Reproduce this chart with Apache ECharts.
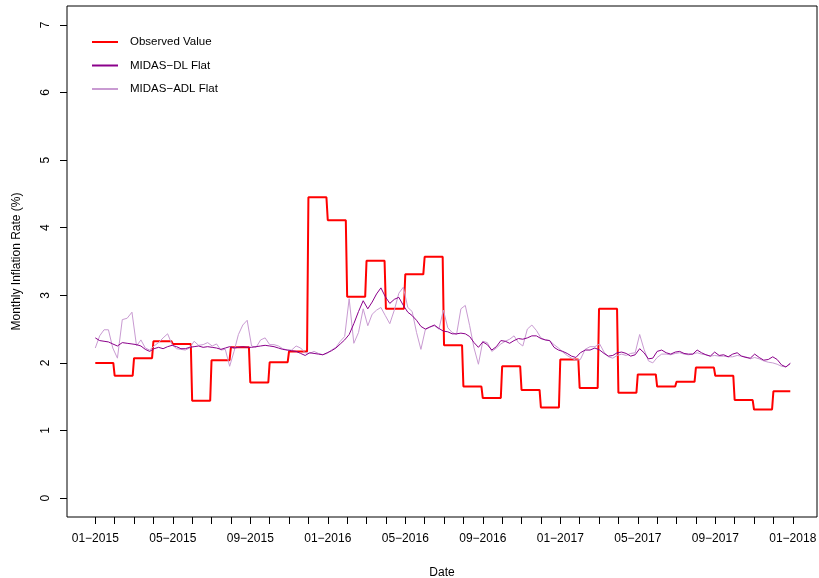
<!DOCTYPE html>
<html>
<head>
<meta charset="utf-8">
<script src="https://cdn.jsdelivr.net/npm/echarts@6/dist/echarts.min.js"></script>
<style>
html, body { margin: 0; padding: 0; background: #fff; }
#chart { width: 819px; height: 578px; }
</style>
</head>
<body>
<div id="chart"></div>
<script>
// monthly observed inflation, Jan 2015 .. Dec 2017
const observed = [
  2.00, 1.81, 2.07, 2.32, 2.28, 1.44, 2.04, 2.23, 1.71, 2.01, 2.17, 4.45,
  4.11, 2.98, 3.51, 2.80, 3.31, 3.57, 2.26, 1.65, 1.48, 1.95, 1.60, 1.34,
  2.05, 1.63, 2.80, 1.56, 1.83, 1.65, 1.72, 1.93, 1.81, 1.45, 1.31, 1.58
]

// weekly nowcasts, starting 2015-01-01
const weekStart = '2015-01-01'
const midasDL = [
  2.37, 2.33, 2.32, 2.31, 2.28, 2.25, 2.30, 2.29, 2.28, 2.27,
  2.25, 2.20, 2.17, 2.21, 2.23, 2.21, 2.24, 2.26, 2.24, 2.21,
  2.21, 2.23, 2.24, 2.25, 2.23, 2.24, 2.23, 2.22, 2.20, 2.22,
  2.24, 2.22, 2.23, 2.24, 2.23, 2.23, 2.24, 2.25, 2.26, 2.25,
  2.24, 2.22, 2.20, 2.19, 2.18, 2.17, 2.14, 2.11, 2.15, 2.14,
  2.13, 2.12, 2.15, 2.18, 2.22, 2.28, 2.34, 2.42, 2.58, 2.76,
  2.92, 2.80, 2.90, 3.02, 3.11, 2.98, 2.88, 2.94, 2.97, 2.85,
  2.75, 2.70, 2.63, 2.54, 2.50, 2.53, 2.56, 2.51, 2.47,
  2.46, 2.43, 2.43, 2.44, 2.43, 2.39, 2.30, 2.23, 2.31, 2.27,
  2.19, 2.24, 2.33, 2.32, 2.29, 2.33, 2.36, 2.35, 2.37, 2.40,
  2.40, 2.36, 2.34, 2.33, 2.23, 2.19, 2.17, 2.14, 2.10, 2.08,
  2.15, 2.19, 2.19, 2.22, 2.19, 2.14, 2.10, 2.11, 2.15,
  2.16, 2.14, 2.10, 2.12, 2.21, 2.15, 2.06, 2.07, 2.17, 2.19,
  2.15, 2.13, 2.16, 2.17, 2.14, 2.13, 2.13, 2.19, 2.15, 2.12,
  2.10, 2.16, 2.11, 2.12, 2.09, 2.13, 2.15, 2.10, 2.08, 2.07,
  2.13, 2.08, 2.04, 2.05, 2.09, 2.05, 1.97, 1.94, 1.99
]
const midasADL = [
  2.22, 2.40, 2.49, 2.49, 2.22, 2.07, 2.64, 2.66, 2.75, 2.25,
  2.34, 2.22, 2.19, 2.25, 2.30, 2.37, 2.43, 2.27, 2.21, 2.20,
  2.19, 2.22, 2.32, 2.26, 2.27, 2.30, 2.25, 2.28, 2.19, 2.20,
  1.95, 2.17, 2.42, 2.56, 2.63, 2.25, 2.23, 2.34, 2.37, 2.27,
  2.27, 2.25, 2.21, 2.19, 2.19, 2.25, 2.22, 2.15, 2.14, 2.17,
  2.14, 2.12, 2.14, 2.19, 2.23, 2.32, 2.39, 2.95, 2.29, 2.45,
  2.80, 2.55, 2.72, 2.78, 2.82, 2.70, 2.58, 2.78, 3.03, 3.12,
  2.82, 2.76, 2.45, 2.20, 2.49, 2.53, 2.55, 2.50, 2.78,
  2.52, 2.45, 2.42, 2.80, 2.85, 2.55, 2.22, 1.98, 2.32, 2.30,
  2.17, 2.22, 2.28, 2.32, 2.35, 2.40, 2.30, 2.25, 2.50, 2.56,
  2.48, 2.37, 2.34, 2.33, 2.27, 2.22, 2.16, 2.11, 2.07, 2.04,
  2.05, 2.20, 2.24, 2.24, 2.28, 2.16, 2.09, 2.07, 2.11,
  2.13, 2.11, 2.14, 2.15, 2.42, 2.20, 2.03, 2.00, 2.08, 2.13,
  2.13, 2.12, 2.14, 2.15, 2.13, 2.12, 2.13, 2.15, 2.13, 2.12,
  2.10, 2.11, 2.10, 2.10, 2.09, 2.09, 2.11, 2.10, 2.09, 2.06,
  2.08, 2.06, 2.03, 2.01, 2.00, 1.98, 1.95, 1.94, 2.00
]

const tickLabels = ['01-2015', '05-2015', '09-2015', '01-2016', '05-2016',
  '09-2016', '01-2017', '05-2017', '09-2017', '01-2018']
const yTicks = [0, 1, 2, 3, 4, 5, 6, 7]
const seriesNames = ['Observed Value', 'MIDAS\u2212DL Flat', 'MIDAS\u2212ADL Flat']

const FONT = 'Liberation Sans, Arial, sans-serif'
const DAY = 86400000

// position of a date in months since Jan 2015
function monthPos(t) {
  const d = new Date(t)
  const y = d.getUTCFullYear(), m = d.getUTCMonth()
  const dim = new Date(Date.UTC(y, m + 1, 0)).getUTCDate()
  return (y - 2015) * 12 + m + (d.getUTCDate() - 1) / dim
}

const t0 = Date.parse(weekStart + 'T00:00:00Z')
const weekX = midasDL.map((v, i) => monthPos(t0 + i * 7 * DAY))
const lastX = weekX[weekX.length - 1]

const dlData = midasDL.map((v, i) => [weekX[i], v])
const adlData = midasADL.map((v, i) => [weekX[i], v])
const obsData = []
observed.forEach((v, k) => {
  obsData.push([k, v])
  obsData.push([k === observed.length - 1 ? lastX : k + 0.93, v])
})

const monthTicks = []
for (let i = 0; i <= 36; i++) monthTicks.push(i)
const labelTicks = tickLabels.map((s, i) => i * 4)

const chart = echarts.init(document.getElementById('chart'))
chart.setOption({
  animation: false,
  backgroundColor: '#fff',
  textStyle: { fontFamily: FONT },
  grid: {
    left: 67, right: 2, top: 6, bottom: 61,
    outerBoundsMode: 'none',
    show: true, borderColor: '#000', borderWidth: 1, backgroundColor: 'transparent'
  },
  legend: {
    data: seriesNames,
    orient: 'vertical',
    left: 87, top: 31,
    icon: 'path://M0,0H26V2H0Z',
    itemWidth: 26, itemHeight: 12, itemGap: 11.5,
    textStyle: { fontFamily: FONT, fontSize: 11.5, color: '#000', padding: [0, 0, 0, 7] }
  },
  xAxis: {
    type: 'value',
    min: -1.46, max: 37.25,
    name: 'Date', nameLocation: 'middle', nameGap: 50,
    nameTextStyle: { fontFamily: FONT, fontSize: 12, color: '#000' },
    axisLine: { show: false, onZero: false },
    splitLine: { show: false },
    axisTick: { show: true, length: 7, customValues: monthTicks, lineStyle: { color: '#000' } },
    axisLabel: {
      customValues: labelTicks, margin: 16, fontFamily: FONT, fontSize: 12, color: '#000',
      formatter: v => tickLabels[Math.round(v / 4)].replace('-', '\u2212')
    }
  },
  yAxis: {
    type: 'value',
    min: -0.28, max: 7.28,
    name: 'Monthly Inflation Rate (%)', nameLocation: 'middle', nameGap: 44,
    nameTextStyle: { fontFamily: FONT, fontSize: 12, color: '#000' },
    axisLine: { show: false, onZero: false },
    splitLine: { show: false },
    axisTick: { show: true, length: 7, customValues: yTicks, lineStyle: { color: '#000' } },
    axisLabel: {
      customValues: yTicks, rotate: 90, margin: 15, fontFamily: FONT, fontSize: 12, color: '#000'
    }
  },
  series: [
    {
      name: seriesNames[0], type: 'line', data: obsData, symbol: 'none',
      lineStyle: { color: '#ff0000', width: 2 }, itemStyle: { color: '#ff0000' }, z: 2
    },
    {
      name: seriesNames[2], type: 'line', data: adlData, symbol: 'none',
      lineStyle: { color: '#c99bd2', width: 1 }, itemStyle: { color: '#c99bd2' }, z: 3
    },
    {
      name: seriesNames[1], type: 'line', data: dlData, symbol: 'none',
      lineStyle: { color: '#8b008b', width: 1 }, itemStyle: { color: '#8b008b' }, z: 4
    }
  ]
})
</script>
</body>
</html>
